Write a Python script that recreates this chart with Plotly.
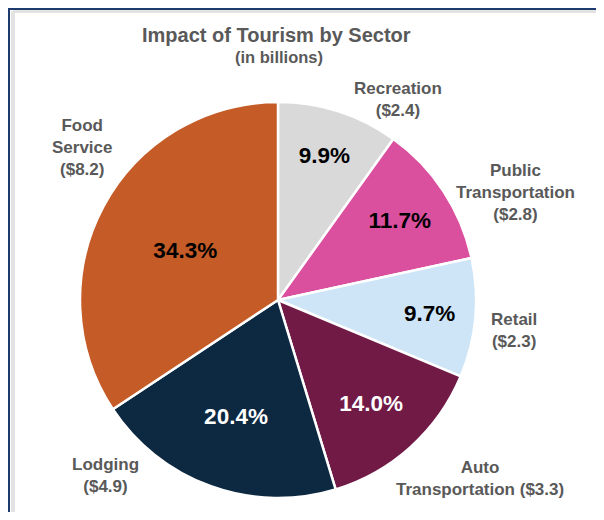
import plotly.graph_objects as go

sectors = ["Recreation", "Public Transportation", "Retail", "Auto Transportation", "Lodging", "Food Service"]
label_lines = ["Recreation", "Public<br>Transportation", "Retail", "Auto<br>Transportation", "Lodging", "Food<br>Service"]
billions = [2.4, 2.8, 2.3, 3.3, 4.9, 8.2]
shares = [9.9, 11.7, 9.7, 14.0, 20.4, 34.3]
colors = ["#D9D9D9", "#DB4F9F", "#CDE5F7", "#701A45", "#0D2841", "#C55B26"]
pct_colors = ["#000000", "#000000", "#000000", "#FFFFFF", "#FFFFFF", "#000000"]

sep = ["<br>", "<br>", "<br>", " ", "<br>", "<br>"]
outer_text = [f"{l}{s}(${b:.1f})" for l, s, b in zip(label_lines, sep, billions)]

# layout positions (pixels from top-left of figure) for the outer category labels
W, H = 588, 504
label_pos = [(390, 91), (507, 184), (506, 322), (472, 470), (97, 467), (74, 139)]

FONT = "Arial, Liberation Sans, sans-serif"
cx, cy, r = 270, 292, 198
dom_x = [(cx - r) / W, (cx + r) / W]
dom_y = [(H - cy - r) / H, (H - cy + r) / H]

fig = go.Figure()
fig.add_trace(go.Pie(
    labels=sectors, values=shares, sort=False, direction="clockwise", rotation=0,
    marker=dict(colors=colors, line=dict(color="white", width=2.5)),
    texttemplate="<b>%{value:.1f}%</b>", textposition="inside",
    insidetextorientation="horizontal",
    insidetextfont=dict(family=FONT, size=22.5, color=pct_colors),
    domain=dict(x=dom_x, y=dom_y), hoverinfo="skip", showlegend=False,
))

annotations = []
for txt, (px, py) in zip(outer_text, label_pos):
    annotations.append(dict(
        text=f"<b>{txt}</b>", x=px / W, y=1 - py / H, xref="paper", yref="paper",
        xanchor="center", yanchor="middle", showarrow=False, align="center",
        font=dict(family=FONT, size=17, color="#595959"),
    ))
annotations.append(dict(
    text="<b>Impact of Tourism by Sector</b>", x=268.5 / W, y=1 - 27 / H, xref="paper", yref="paper",
    xanchor="center", yanchor="middle", showarrow=False,
    font=dict(family=FONT, size=20, color="#595959"),
))
annotations.append(dict(
    text="<b>(in billions)</b>", x=271 / W, y=1 - 49 / H, xref="paper", yref="paper",
    xanchor="center", yanchor="middle", showarrow=False,
    font=dict(family=FONT, size=16.5, color="#595959"),
))

fig.update_layout(
    width=W, height=H,
    margin=dict(l=0, r=0, t=0, b=0),
    paper_bgcolor="white", plot_bgcolor="white",
    annotations=annotations,
    shapes=[
        dict(type="line", xref="paper", yref="paper", x0=5 / W, x1=1.0, y0=1 - 3 / H, y1=1 - 3 / H,
             line=dict(color="#E3E3E3", width=4)),
        dict(type="line", xref="paper", yref="paper", x0=5 / W, x1=5 / W, y0=0, y1=1 - 3 / H,
             line=dict(color="#E3E3E3", width=4)),
        dict(type="line", xref="paper", yref="paper", x0=0, x1=1.0, y0=1 - 1 / H, y1=1 - 1 / H,
             line=dict(color="#1F3A6E", width=2)),
        dict(type="line", xref="paper", yref="paper", x0=1 / W, x1=1 / W, y0=0, y1=1,
             line=dict(color="#1F3A6E", width=2)),
    ],
)

fig.write_html("out.html")
